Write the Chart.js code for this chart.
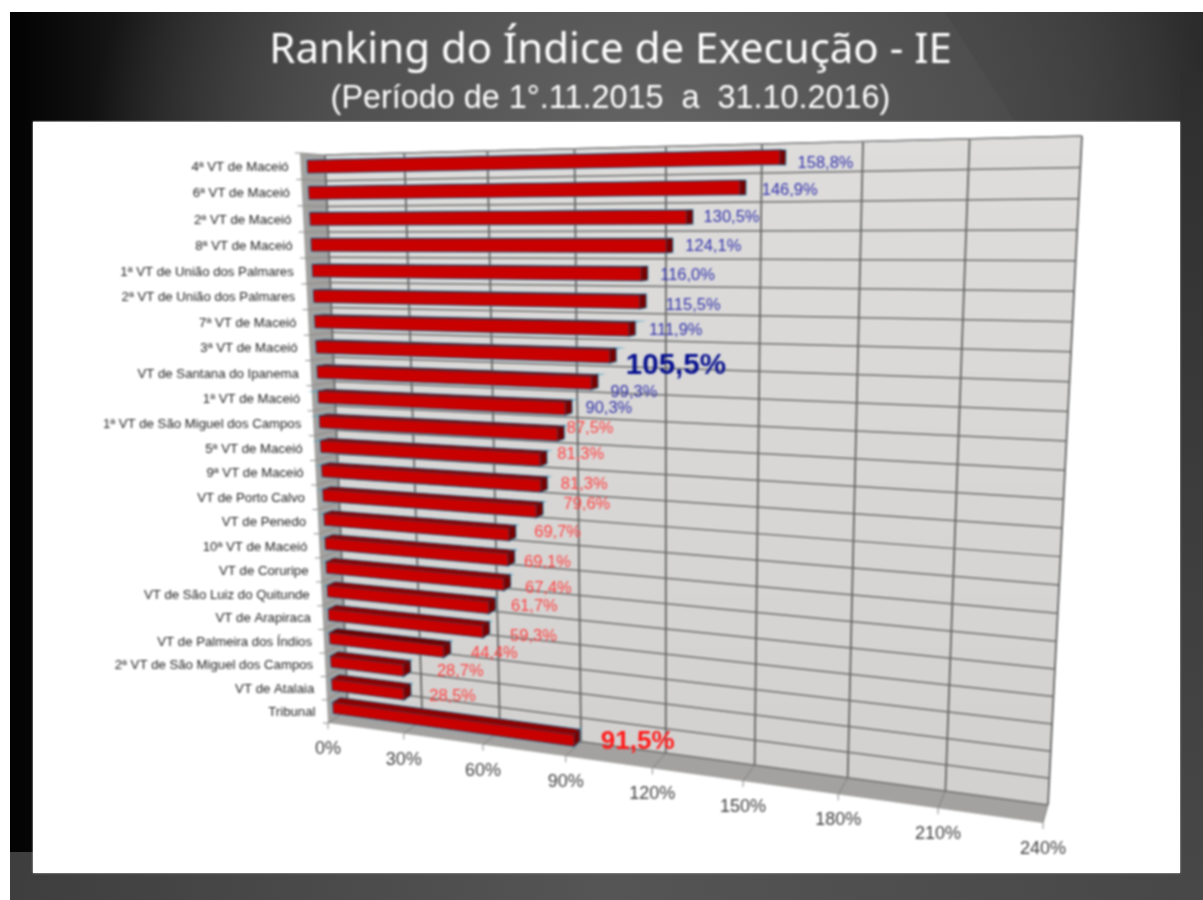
<!DOCTYPE html>
<html lang="pt"><head><meta charset="utf-8">
<style>
html,body{margin:0;padding:0;background:#fff;width:1203px;height:900px;overflow:hidden}
#slide{position:absolute;left:10px;top:12px;width:1193px;height:888px;overflow:hidden;
background:radial-gradient(ellipse 560px 420px at 640px 130px,#646464 0%,#505050 55%,rgba(60,60,60,0) 100%),linear-gradient(90deg,#020202 0%,#1c1c1c 12%,#3c3c3c 30%,#454545 70%,#3a3a3a 90%,#2e2e2e 100%)}
#shade{position:absolute;left:935px;top:0;width:258px;height:110px;background:rgba(0,0,0,.05);clip-path:polygon(0 0,100% 0,100% 100%,70px 100%)}
#ribbon{position:absolute;left:0;top:840px;width:1193px;height:48px;background:linear-gradient(90deg,#3e3e3e,#555 50%,#474747)}
#strip{position:absolute;left:23px;top:110px;right:23px;bottom:27px;background:#fff;box-shadow:0 0 2px 0 #c4c4c4,0 -1px 1px 0 #666}
#strip2{position:absolute;left:1170px;top:60px;width:23px;height:828px;background:linear-gradient(180deg,#2e2e2e,#3c3c3c 50%,#484848)}
#c{position:absolute;left:0;top:0;filter:blur(.85px)}
</style></head><body>
<div id="slide"><div id="shade"></div><div id="ribbon"></div><div id="strip2"></div><div id="strip"></div></div>
<canvas id="c" width="1203" height="900"></canvas>
<script src="https://cdn.jsdelivr.net/npm/chart.js@4"></script>
<script>
const categories=["4ª VT de Maceió","6ª VT de Maceió","2ª VT de Maceió","8ª VT de Maceió","1ª VT de União dos Palmares","2ª VT de União dos Palmares","7ª VT de Maceió","3ª VT de Maceió","VT de Santana do Ipanema","1ª VT de Maceió","1ª VT de São Miguel dos Campos","5ª VT de Maceió","9ª VT de Maceió","VT de Porto Calvo","VT de Penedo","10ª VT de Maceió","VT de Coruripe","VT de São Luiz do Quitunde","VT de Arapiraca","VT de Palmeira dos Índios","2ª VT de São Miguel dos Campos","VT de Atalaia","Tribunal"];
const values=[158.8,146.9,130.5,124.1,116.0,115.5,111.9,105.5,99.3,90.3,87.5,81.3,81.3,79.6,69.7,69.1,67.4,61.7,59.3,44.4,28.7,28.5,91.5];
const titleText="Ranking do Índice de Execução - IE";
const subtitleText="(Período de 1°.11.2015  a  31.10.2016)";
const labelShiftX=[15,19,14,16,16,23,17,13,16,17,6,14,17,24,22,13,18,19,24,24,30,22,24];
const labelShiftY=[6,3,0,1,2,4,2,10,11,1,-5,-4,0,-5,-1,4,6,1,7,4,3,5,4];
const highlightSize={7:29.5,22:26};
const blueFrom=90;

function quad(p){const [p0,p1,p2,p3]=p;
 const dx1=p1[0]-p2[0],dx2=p3[0]-p2[0],sx=p0[0]-p1[0]+p2[0]-p3[0];
 const dy1=p1[1]-p2[1],dy2=p3[1]-p2[1],sy=p0[1]-p1[1]+p2[1]-p3[1];
 const den=dx1*dy2-dx2*dy1,g=(sx*dy2-dx2*sy)/den,h=(dx1*sy-sx*dy1)/den;
 const a=p1[0]-p0[0]+g*p1[0],b=p3[0]-p0[0]+h*p3[0],d=p1[1]-p0[1]+g*p1[1],e=p3[1]-p0[1]+h*p3[1];
 return (u,v)=>{const w=g*u+h*v+1;return [(a*u+b*v+p0[0])/w,(d*u+e*v+p0[1])/w];};}
const backWall=quad([[325,155],[1082,136],[1048,805],[348,710]]);
const frontWall=quad([[300,153],[1073,135],[1043,823],[328,723]]);
const P=(u,v,d)=>{const f=frontWall(u,v),b=backWall(u,v);return [b[0]+(f[0]-b[0])*d,b[1]+(f[1]-b[1])*d];};
const BAR_FRONT=.72,BAR_BACK=.36;

function poly(ctx,pts,fill,stroke,lw){ctx.beginPath();pts.forEach((q,i)=>i?ctx.lineTo(q[0],q[1]):ctx.moveTo(q[0],q[1]));ctx.closePath();
 if(fill){ctx.fillStyle=fill;ctx.fill();}
 if(stroke){ctx.strokeStyle=stroke;ctx.lineWidth=lw||1;ctx.stroke();}}
function seg(ctx,a,b,col,lw){ctx.beginPath();ctx.moveTo(a[0],a[1]);ctx.lineTo(b[0],b[1]);ctx.strokeStyle=col;ctx.lineWidth=lw;ctx.stroke();}

const perspective={id:'perspective',
 beforeDatasetsDraw(chart){
  const ctx=chart.ctx,A=chart.chartArea,xs=chart.scales.x,n=categories.length;
  const U=t=>(xs.getPixelForValue(t)-A.left)/A.width;
  ctx.save();
  const g=ctx.createLinearGradient(0,140,0,800);g.addColorStop(0,'#dedddc');g.addColorStop(1,'#d2d1cf');
  poly(ctx,[backWall(0,0),backWall(1,0),backWall(1,1),backWall(0,1)],g);
  poly(ctx,[frontWall(0,0),backWall(0,0),backWall(0,1),frontWall(0,1)],'#a3a2a0');
  poly(ctx,[frontWall(0,1),backWall(0,1),backWall(1,1),frontWall(1,1)],'#a3a2a0');
  for(let i=0;i<=n;i++){const v=i/n;
   seg(ctx,backWall(0,v),backWall(1,v),'#6e6e6e',1.5);
   seg(ctx,frontWall(0,v),backWall(0,v),'#8a8a8a',1);
   const f=frontWall(0,v);seg(ctx,f,[f[0]-5,f[1]],'#888',1);}
  xs.ticks.forEach(t=>{const u=U(t.value);
   seg(ctx,backWall(u,0),backWall(u,1),'#666',1.8);
   seg(ctx,backWall(u,1),frontWall(u,1),'#808080',1);
   const f=frontWall(u,1);seg(ctx,f,[f[0],f[1]+6],'#888',1);
   ctx.fillStyle='#404040';ctx.font='18px "Liberation Sans"';ctx.textAlign='center';ctx.textBaseline='middle';
   ctx.fillText(t.label,f[0],f[1]+26);});
  seg(ctx,backWall(0,0),backWall(1,0),'#8e8e8e',1.5);
  categories.forEach((c,i)=>{const f=frontWall(0,(i+.5)/n);
   ctx.fillStyle='#222';ctx.font='13.2px "Liberation Sans"';ctx.textAlign='right';ctx.textBaseline='middle';
   ctx.fillText(c,f[0]-12,f[1]+1);});
  ctx.restore();
 },
 beforeDatasetDraw(chart){
  const ctx=chart.ctx,A=chart.chartArea,els=chart.getDatasetMeta(0).data;
  ctx.save();
  els.forEach((el,i)=>{
   const u0=(el.base-A.left)/A.width,u1=(el.x-A.left)/A.width;
   const v0=(el.y-el.height/2-A.top)/A.height,v1=(el.y+el.height/2-A.top)/A.height;
   const fr=[P(u0,v0,BAR_FRONT),P(u1,v0,BAR_FRONT),P(u1,v1,BAR_FRONT),P(u0,v1,BAR_FRONT)];
   const topF=[P(u0,v0,BAR_BACK),P(u1,v0,BAR_BACK),fr[1],fr[0]];
   const cap=[fr[1],P(u1,v0,BAR_BACK),P(u1,v1,BAR_BACK),fr[2]];
   const halo='rgba(80,160,195,.6)';
   poly(ctx,topF,null,halo,2.6);poly(ctx,cap,null,halo,2.6);poly(ctx,fr,null,halo,2.6);
   poly(ctx,topF,i===19?'#6e0000':'#8e0000','#3b2a3a',.8);
   poly(ctx,cap,'#7a0000','#2c2c3c',.8);
   poly(ctx,fr,'#c80000','#553040',.8);
   const size=highlightSize[i],v=values[i];
   const blue=v>=blueFrom&&i!==22;
   const end=P(u1,(v0+v1)/2,(BAR_FRONT+BAR_BACK)/2);
   ctx.font=(size?'bold '+size+'px ':'16.5px ')+'"Liberation Sans"';
   ctx.textAlign='left';ctx.textBaseline='middle';
   ctx.fillStyle=size?(blue?'#06108e':'#ff1a1a'):(blue?'#3232aa':'#ff4040');
   ctx.fillText(v.toFixed(1).replace('.',',')+'%',end[0]+labelShiftX[i],end[1]+labelShiftY[i]);
  });
  ctx.restore();
  return false;
 }};

new Chart(document.getElementById('c'),{
 type:'bar',
 data:{labels:categories,datasets:[{data:values,backgroundColor:'#c80000',barPercentage:.76,categoryPercentage:.62}]},
 plugins:[perspective],
 options:{indexAxis:'y',responsive:false,animation:false,
  layout:{padding:{left:18,right:0,top:12,bottom:20}},
  plugins:{legend:{display:false},tooltip:{enabled:false},
   title:{display:true,text:titleText,color:'#ffffff',font:{family:'"Noto Sans"',size:42,weight:'normal'},padding:{top:14,bottom:3}},
   subtitle:{display:true,text:subtitleText,color:'#ffffff',font:{family:'"Liberation Sans"',size:32.4,weight:'normal'},padding:{top:0,bottom:10}}},
  scales:{x:{display:false,min:0,max:240,ticks:{stepSize:30,autoSkip:false,callback:v=>v+'%'}},
   y:{display:false,type:'category',grid:{display:false}}}}
});
</script></body></html>
